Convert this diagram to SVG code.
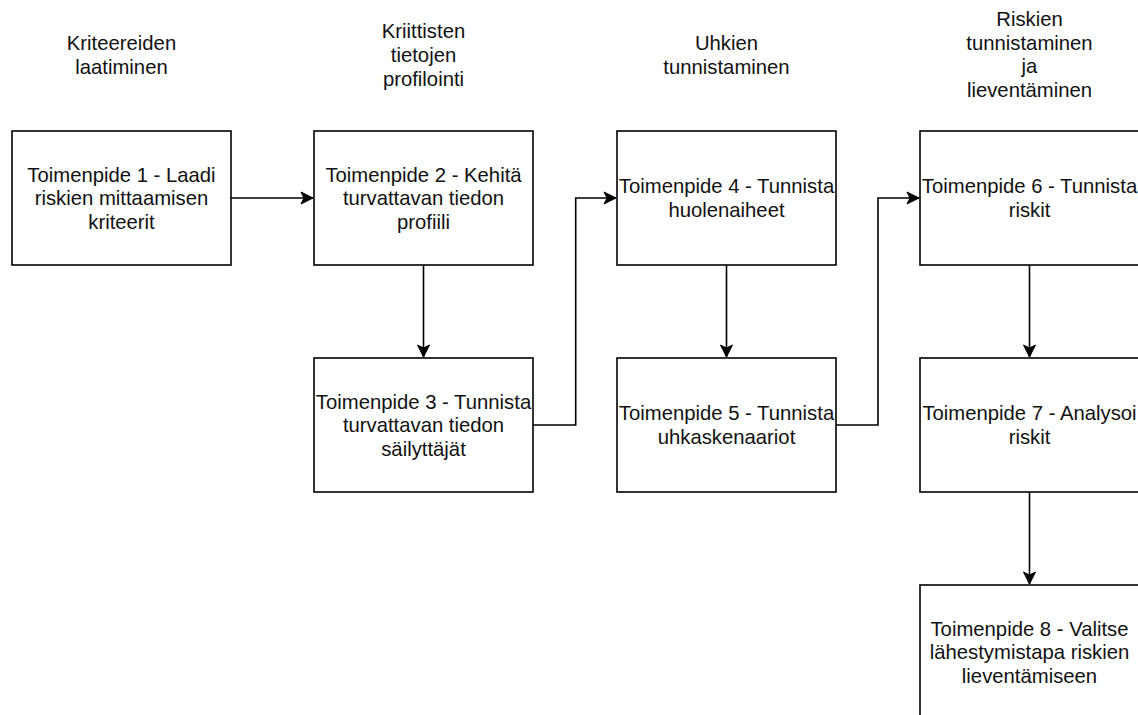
<svg xmlns="http://www.w3.org/2000/svg" width="1138" height="715" viewBox="0 0 1138 715">
<style>
.box{fill:#fff;stroke:#000;stroke-width:1.6}
.t{font-family:"Liberation Sans",Arial,Helvetica,sans-serif;font-size:20.3px;fill:#111;text-anchor:middle}
.edge{fill:none;stroke:#000;stroke-width:1.6}
</style>
<defs>
<marker id="arr" viewBox="0 0 14 14" refX="13" refY="7" markerWidth="14" markerHeight="14" markerUnits="userSpaceOnUse" orient="auto">
<path d="M13,7 L1,1 L4,7 L1,13 Z" fill="#000" stroke="#000" stroke-width="1"/>
</marker>
</defs>
<rect width="1138" height="715" fill="#fff"/>
<g id="headers">
<text class="t"><tspan x="121.5" y="49.7">Kriteereiden</tspan><tspan x="121.5" y="73.9">laatiminen</tspan></text>
<text class="t"><tspan x="423.5" y="37.6">Kriittisten</tspan><tspan x="423.5" y="61.8">tietojen</tspan><tspan x="423.5" y="86">profilointi</tspan></text>
<text class="t"><tspan x="726.5" y="49.7">Uhkien</tspan><tspan x="726.5" y="73.9">tunnistaminen</tspan></text>
<text class="t"><tspan x="1029.5" y="26.2">Riskien</tspan><tspan x="1029.5" y="49.7">tunnistaminen</tspan><tspan x="1029.5" y="73.2">ja</tspan><tspan x="1029.5" y="96.7">lieventäminen</tspan></text>
</g>
<g id="edges">
<path class="edge" d="M231,198 L313,198" marker-end="url(#arr)"/>
<path class="edge" d="M423.5,265 L423.5,357" marker-end="url(#arr)"/>
<path class="edge" d="M533,425 L575.7,425 L575.7,198 L616,198" marker-end="url(#arr)"/>
<path class="edge" d="M726.5,265 L726.5,357" marker-end="url(#arr)"/>
<path class="edge" d="M836,425 L878,425 L878,198 L919,198" marker-end="url(#arr)"/>
<path class="edge" d="M1029.5,265 L1029.5,357" marker-end="url(#arr)"/>
<path class="edge" d="M1029.5,492 L1029.5,584" marker-end="url(#arr)"/>
</g>
<g id="n1"><rect class="box" x="12" y="131" width="219" height="134"/>
<text class="t"><tspan x="121.5" y="181.6">Toimenpide 1 - Laadi</tspan><tspan x="121.5" y="205.1">riskien mittaamisen</tspan><tspan x="121.5" y="228.6">kriteerit</tspan></text></g>
<g id="n2"><rect class="box" x="314" y="131" width="219" height="134"/>
<text class="t"><tspan x="423.5" y="181.6">Toimenpide 2 - Kehitä</tspan><tspan x="423.5" y="205.1">turvattavan tiedon</tspan><tspan x="423.5" y="228.6">profiili</tspan></text></g>
<g id="n3"><rect class="box" x="314" y="358" width="219" height="134"/>
<text class="t"><tspan x="423.5" y="408.6">Toimenpide 3 - Tunnista</tspan><tspan x="423.5" y="432.1">turvattavan tiedon</tspan><tspan x="423.5" y="455.6">säilyttäjät</tspan></text></g>
<g id="n4"><rect class="box" x="617" y="131" width="219" height="134"/>
<text class="t"><tspan x="726.5" y="193.3">Toimenpide 4 - Tunnista</tspan><tspan x="726.5" y="216.8">huolenaiheet</tspan></text></g>
<g id="n5"><rect class="box" x="617" y="358" width="219" height="134"/>
<text class="t"><tspan x="726.5" y="420.3">Toimenpide 5 - Tunnista</tspan><tspan x="726.5" y="443.8">uhkaskenaariot</tspan></text></g>
<g id="n6"><rect class="box" x="920" y="131" width="219" height="134"/>
<text class="t"><tspan x="1029.5" y="193.3">Toimenpide 6 - Tunnista</tspan><tspan x="1029.5" y="216.8">riskit</tspan></text></g>
<g id="n7"><rect class="box" x="920" y="358" width="219" height="134"/>
<text class="t"><tspan x="1029.5" y="420.3">Toimenpide 7 - Analysoi</tspan><tspan x="1029.5" y="443.8">riskit</tspan></text></g>
<g id="n8"><rect class="box" x="920" y="585" width="219" height="134"/>
<text class="t"><tspan x="1029.5" y="635.6">Toimenpide 8 - Valitse</tspan><tspan x="1029.5" y="659.1">lähestymistapa riskien</tspan><tspan x="1029.5" y="682.6">lieventämiseen</tspan></text></g>
</svg>
